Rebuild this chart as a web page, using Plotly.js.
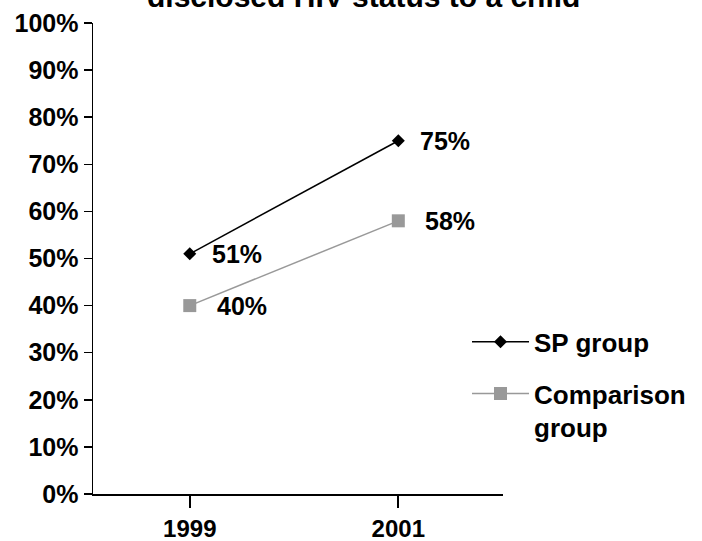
<!DOCTYPE html>
<html><head><meta charset="utf-8">
<script src="https://cdn.plot.ly/plotly-3.0.1.min.js"></script>
<style>html,body{margin:0;padding:0;background:#fff}#chart{width:702px;height:541px}</style>
</head><body><div id="chart"></div>
<script>
const years = ['1999', '2001'];
const spGroup = [51, 75];
const comparisonGroup = [40, 58];
const seriesNames = ['SP group', 'Comparison<br>group'];
const yTickVals = [0, 10, 20, 30, 40, 50, 60, 70, 80, 90, 100];
const titleText = 'disclosed HIV status to a child';

const FONT = 'Liberation Sans, Arial, sans-serif';
const pct = v => v + '%';
const labelFont = {family: FONT, size: 25, weight: 'bold', color: '#000'};

const traces = [
  {
    x: years, y: spGroup, name: seriesNames[0], legendgroup: 'a',
    type: 'scatter', mode: 'lines+markers',
    line: {color: '#000000', width: 1.5},
    marker: {symbol: 'diamond', size: 10, color: '#000000'},
    cliponaxis: false
  },
  {
    x: years, y: comparisonGroup, name: seriesNames[1], legendgroup: 'b',
    type: 'scatter', mode: 'lines+markers',
    line: {color: '#999999', width: 1.5},
    marker: {symbol: 'square', size: 13, color: '#999999'},
    cliponaxis: false
  }
];

// data labels: annotations placed on the category axis by category index
const dataLabels = [];
years.forEach((yr, i) => {
  dataLabels.push({x: i, y: spGroup[i], text: pct(spGroup[i]), xref: 'x', yref: 'y',
    xanchor: 'left', yanchor: 'middle', xshift: 20, showarrow: false, font: labelFont});
  dataLabels.push({x: i, y: comparisonGroup[i], text: pct(comparisonGroup[i]), xref: 'x', yref: 'y',
    xanchor: 'left', yanchor: 'middle', xshift: 25, showarrow: false, font: labelFont});
});

const layout = {
  width: 702, height: 541,
  margin: {l: 93, r: 198, t: 23, b: 47},
  paper_bgcolor: '#ffffff', plot_bgcolor: '#ffffff',
  font: {family: FONT, color: '#000'},
  showlegend: true,
  legend: {
    x: 0.91, xanchor: 'left', y: 0.373, yanchor: 'top',
    font: {family: FONT, size: 26, weight: 'bold', color: '#000'},
    tracegroupgap: 15, itemwidth: 57, valign: 'top',
    bgcolor: 'rgba(0,0,0,0)'
  },
  xaxis: {
    type: 'category', range: [-0.464, 1.502],
    showline: true, linecolor: '#000', linewidth: 2,
    ticks: 'outside', ticklen: 12, tickwidth: 2, tickcolor: '#000',
    tickfont: {family: FONT, size: 24, weight: 'bold', color: '#000'},
    showgrid: false, zeroline: false, fixedrange: true
  },
  yaxis: {
    range: [0, 100], tickvals: yTickVals, ticktext: yTickVals.map(pct),
    showline: true, linecolor: '#000', linewidth: 1.5,
    ticks: 'outside', ticklen: 8, tickwidth: 1.5, tickcolor: '#000',
    tickfont: {family: FONT, size: 25, weight: 'bold', color: '#000'},
    showgrid: false, zeroline: false, fixedrange: true
  },
  annotations: [{
    text: titleText, xref: 'paper', yref: 'paper', x: 0.659, y: 1,
    xanchor: 'center', yanchor: 'bottom', yshift: 8, showarrow: false,
    font: {family: FONT, size: 30, weight: 'bold', color: '#000'}
  }].concat(dataLabels)
};

Plotly.newPlot('chart', traces, layout, {staticPlot: true, displayModeBar: false});
</script>
</body></html>
